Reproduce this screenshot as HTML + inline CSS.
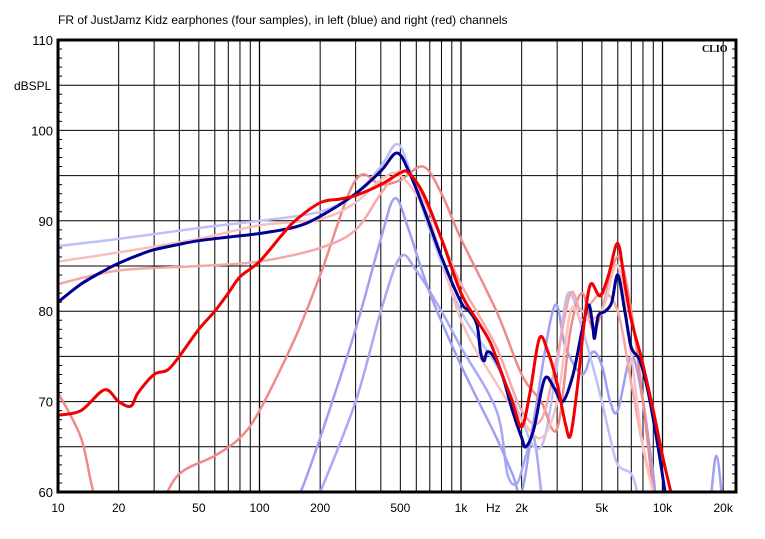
<!DOCTYPE html>
<html><head><meta charset="utf-8"><style>
html,body{margin:0;padding:0;background:#fff;width:765px;height:539px;overflow:hidden}
svg{display:block;font-family:"Liberation Sans",sans-serif}
</style></head><body>
<svg id="chart" width="765" height="539">
<text x="58" y="24" font-size="12" fill="#000">FR of JustJamz Kidz earphones (four samples), in left (blue) and right (red) channels</text>
<g id="grid"></g>
<defs><clipPath id="clip"><rect x="58" y="40" width="678" height="452"/></clipPath></defs>
<g id="series" clip-path="url(#clip)"></g>
<rect x="58" y="40" width="678" height="452" fill="none" stroke="#000" stroke-width="3"/>
<g id="labels"></g>
<text x="702" y="52" font-size="10" font-weight="bold" font-family="Liberation Serif,serif">CLIO</text>
<text x="14" y="90" font-size="12">dBSPL</text>
<text x="486" y="512" font-size="12">Hz</text>
</svg>
<script>
const xTickVals=[10,20,50,100,200,500,1000,2000,5000,10000,20000];
const xTickLabels=["10","20","50","100","200","500","1k","2k","5k","10k","20k"];
const yTickVals=[60,70,80,90,100,110];

const darkBlueF=[10,13,17,20,25,30,40,50,70,100,150,200,300,400,480,550,650,800,1000,1100,1200,1250,1300,1350,1450,1600,1800,2000,2100,2300,2600,2900,3200,3600,4000,4300,4500,4600,4800,5200,5600,6000,6500,7000,7700,8500,9500,10300,11000];
const darkBlue=[81,83,84.5,85.3,86.2,86.8,87.4,87.8,88.2,88.6,89.3,90.5,93,95.5,97.5,95.5,91.5,86,81,80,78.5,75.5,74.5,75.5,75,73,69,66,65,67,72.5,71.5,70,73,78,80.7,78.5,77,79.5,80,81,84,80,76,74.6,71,65,60,56];
const redBoldF=[10,13,17,20,23,25,30,35,40,50,60,70,80,100,130,150,200,250,300,400,500,550,650,800,1000,1200,1400,1600,1800,2000,2200,2450,2700,3000,3300,3500,3800,4100,4400,4900,5400,6000,6500,7000,7900,9000,10000,11000];
const redBold=[68.5,69,71.3,70,69.5,71,73,73.5,75,78,80,82,83.8,85.5,88.5,90,92,92.4,92.8,94,95.3,95.3,93,88,82,79,76.5,73,70,67.2,71,77,75.5,72,67.5,66.3,72,79,83,81.7,84,87.5,83,79,74.6,69,64,60];

const lightBlue1F=[10,20,50,100,200,300,400,480,550,700,1000,1500,2000,2300,2600,3000,3400,4000,4500,5000,5500,6000,7000,7500];
const lightBlue1=[87.2,88,89.2,90,91,93,96,98.5,96,89,80,74,68,65,66,74,82,78,74,70,66,63,62,60];
const lightBlue2F=[140,160,200,300,400,470,550,700,1000,1500,1800,2000,2300,2900,3300,4000,4500,5000,5500,6000,7000,8000,9000,10000,15000,17000,18500,20000];
const lightBlue2=[58,60,66,78,88,92.5,89,82,74,66,62,60,68,80.5,76,73,75.5,74,70,69,75,70,62,55,55,58,64,58];
const lightBlue3F=[180,200,300,400,500,600,800,1000,1500,1700,1900,2100,2300,2500];
const lightBlue3=[58,60,70,80,86,84.5,80,76,69,62,61,64,66,60];

const lightRed1F=[10,20,50,100,200,300,400,500,700,1000,1500,2000,2500,3000,3500,4000,5000,6000,7000,8000,9000];
const lightRed1=[85.5,86.5,88,89.5,90.2,92,94.5,95,90,79,72,68,66,70,80,79,80,85,75,65,60];
const lightRed2F=[10,20,50,100,200,300,400,500,600,800,1000,1500,2000,2500,3000,3500,4000,5000,6000,7000,8000,9000];
const lightRed2=[83,84.5,85,85.5,87,89,93,95.5,94,88,83,76,69,68,75,82,80,82,80,72,65,60];
const lightRed3F=[10,13,15,18,30,40,60,80,100,150,200,300,400,500,650,800,1000,1500,2000,2500,3000,3500,4000,4500,5000,6000,7000,8000,9000];
const lightRed3=[71,66,60,56,58,62,64,66,69,77,84,94.5,94,94.5,96,93,88,80,73,70,67,78,82,78,80,86,80,70,60];

const svgNS="http://www.w3.org/2000/svg";
const X0=58,XW=201.5,Y0=492,YS=9.04;
function xs(f){return X0+XW*Math.log10(f/10);}
function ys(v){return Y0-(v-60)*YS;}
const grid=document.getElementById('grid'),labels=document.getElementById('labels'),series=document.getElementById('series');
function mk(tag,attrs,parent){const e=document.createElementNS(svgNS,tag);for(const k in attrs)e.setAttribute(k,attrs[k]);parent.appendChild(e);return e;}
for(let d=10;d<20000;d*=10){for(let m=1;m<10;m++){const f=d*m;if(f>20000)break;
 const l=mk('line',{x1:xs(f),x2:xs(f),y1:40,y2:492,stroke:'#000','stroke-width':(m==1?1.3:1)},grid);
 
 }}
for(let v=65;v<110;v+=5){const l=mk('line',{x1:58,x2:736,y1:ys(v),y2:ys(v),stroke:'#000','stroke-width':1},grid);
 
 }
for(let v=61;v<110;v++){if(v%5==0)continue;
 const t=mk('line',{x1:58,x2:62,y1:ys(v),y2:ys(v),stroke:'#000'},grid);
 
 
 const t2=mk('line',{x1:732,x2:736,y1:ys(v),y2:ys(v),stroke:'#000'},grid);
 
 }
yTickVals.forEach(v=>{const t=mk('text',{x:53,y:ys(v)+5,'font-size':13,'text-anchor':'end'},labels);t.textContent=v;
 
 });
xTickVals.forEach((f,i)=>{const t=mk('text',{x:xs(f),y:512,'font-size':12,'text-anchor':'middle'},labels);t.textContent=xTickLabels[i];
 
 });
function draw(fr,vals,color,w,name){
 const P=fr.map((f,i)=>[xs(f),ys(vals[i])]);
 let d='M'+P[0][0].toFixed(1)+','+P[0][1].toFixed(1);
 for(let i=0;i<P.length-1;i++){
  const p0=P[Math.max(0,i-1)],p1=P[i],p2=P[i+1],p3=P[Math.min(P.length-1,i+2)];
  const c1=[p1[0]+(p2[0]-p0[0])/6,p1[1]+(p2[1]-p0[1])/6];
  const c2=[p2[0]-(p3[0]-p1[0])/6,p2[1]-(p3[1]-p1[1])/6];
  d+=' C'+c1.map(n=>n.toFixed(1)).join(',')+' '+c2.map(n=>n.toFixed(1)).join(',')+' '+p2.map(n=>n.toFixed(1)).join(',');
 }
 const p=mk('path',{d:d,fill:'none',stroke:color,'stroke-width':w,'stroke-linejoin':'round'},series);
 
 }
draw(lightBlue3F,lightBlue3,'#a8a8f4',2.5,'left-sample-3-line');
draw(lightBlue2F,lightBlue2,'#a0a0f2',2.5,'left-sample-2-line');
draw(lightBlue1F,lightBlue1,'#c0c0f8',2.5,'left-sample-1-line');
draw(lightRed3F,lightRed3,'#f08a8a',2.5,'right-sample-3-line');
draw(lightRed2F,lightRed2,'#f6a8a8',2.5,'right-sample-2-line');
draw(lightRed1F,lightRed1,'#f8c0c0',2.5,'right-sample-1-line');
draw(darkBlueF,darkBlue,'#000090',3,'left-main-line');
draw(redBoldF,redBold,'#f00000',3,'right-main-line');
</script>
</body></html>
